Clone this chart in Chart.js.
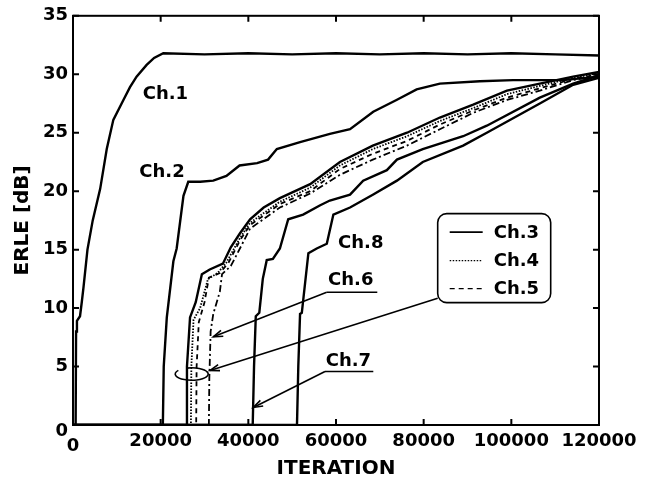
<!DOCTYPE html>
<html lang="en">
<head>
  <meta charset="UTF-8" />
  <title>ERLE vs iteration</title>
  <script src="https://cdn.jsdelivr.net/npm/chart.js"></script>
  <style>
    html, body { margin: 0; padding: 0; background: #fff; }
  </style>
</head>
<body>
  <canvas id="erleChart" width="656" height="483"></canvas>

  <script>
    // ticks
    const xTicks = [0, 20000, 40000, 60000, 80000, 100000, 120000];
    const yTicks = [0, 5, 10, 15, 20, 25, 30, 35];

    // curves (iteration, ERLE dB)
    const ch1X = [0, 600, 700, 900, 1600, 2000, 2400, 3300, 4500, 6200, 7700, 9200, 11500, 13000, 14500, 16800, 18500, 20600, 30000, 40000, 50000, 60000, 70000, 80000, 90000, 100000, 110000, 120000];
    const ch1Y = [0, 0, 8.0, 8.9, 9.3, 10.5, 11.8, 15.0, 17.5, 20.2, 23.6, 26.1, 27.8, 28.9, 29.8, 30.8, 31.4, 31.8, 31.7, 31.8, 31.7, 31.8, 31.7, 31.8, 31.7, 31.8, 31.7, 31.6];

    const ch2X = [0, 20500, 20700, 21400, 22900, 23650, 25200, 26300, 29000, 32000, 35000, 38000, 42000, 44500, 46500, 51800, 58600, 63200, 68500, 73800, 78400, 83700, 92800, 100400, 111800, 120000];
    const ch2Y = [0, 0, 5, 9.2, 14.0, 15.1, 19.6, 20.8, 20.8, 20.9, 21.3, 22.2, 22.4, 22.7, 23.6, 24.2, 24.9, 25.3, 26.8, 27.8, 28.7, 29.2, 29.4, 29.5, 29.5, 29.8];

    const ch3X = [0, 25900, 26000, 26700, 28000, 29400, 31200, 34200, 36000, 38100, 40400, 43500, 47200, 54100, 60900, 68400, 76200, 83700, 91300, 99000, 106500, 114100, 120000];
    const ch3Y = [0, 0, 5, 9.2, 10.5, 12.9, 13.3, 13.8, 15.2, 16.4, 17.6, 18.6, 19.4, 20.6, 22.5, 23.9, 25.0, 26.3, 27.4, 28.6, 29.2, 29.8, 30.2];

    const ch4X = [0, 26900, 27000, 27500, 29000, 30800, 33000, 35000, 38100, 40400, 47200, 54100, 60900, 68400, 76200, 83700, 91300, 99000, 106500, 114100, 120000];
    const ch4Y = [0, 0, 5, 9.0, 10.0, 12.5, 13.0, 13.9, 16.0, 17.3, 19.1, 20.3, 22.2, 23.6, 24.7, 26.0, 27.1, 28.3, 29.0, 29.7, 30.1];

    const ch5X = [0, 28100, 28200, 28700, 30000, 31000, 33500, 35500, 38100, 40400, 47200, 54100, 60900, 68400, 76200, 83700, 91300, 99000, 106500, 114100, 120000];
    const ch5Y = [0, 0, 5, 8.8, 10.5, 12.6, 13.0, 13.9, 15.8, 17.1, 18.9, 20.0, 21.9, 23.2, 24.3, 25.7, 26.9, 28.0, 28.8, 29.6, 30.0];

    const ch6X = [0, 31000, 31100, 31400, 32000, 33500, 34000, 36000, 37400, 40400, 47200, 54100, 60900, 68400, 76200, 83700, 91300, 99000, 106500, 114100, 120000];
    const ch6Y = [0, 0, 4, 8.0, 9.5, 11.4, 12.9, 13.6, 14.6, 16.8, 18.6, 19.8, 21.4, 22.7, 23.9, 25.3, 26.7, 27.8, 28.6, 29.5, 29.9];

    const ch7X = [0, 41000, 41300, 41700, 42500, 43300, 44200, 45600, 47200, 49100, 52500, 56400, 58600, 63200, 66200, 71600, 73900, 79800, 89000, 94400, 106500, 114100, 120000];
    const ch7Y = [0, 0, 5, 9.3, 9.6, 12.5, 14.1, 14.2, 15.1, 17.6, 18.0, 18.8, 19.2, 19.7, 20.9, 21.8, 22.7, 23.6, 24.7, 25.6, 28.0, 29.2, 29.9];

    const ch8X = [0, 51100, 51400, 51800, 52200, 53700, 55600, 57900, 59400, 63200, 68400, 73900, 79800, 89000, 94400, 106500, 114100, 120000];
    const ch8Y = [0, 0, 5, 9.5, 9.6, 14.7, 15.1, 15.5, 18.0, 18.6, 19.7, 20.9, 22.5, 23.9, 25.0, 27.5, 29.1, 29.7];

    const toPoints = (xs, ys) => xs.map((x, i) => ({ x: x, y: ys[i] }));

    const tickFont = { family: 'DejaVu Sans', weight: 'bold', size: 18 };
    const titleFont = { family: 'DejaVu Sans', weight: 'bold', size: 20 };
    const labelFont = 'bold 18px "DejaVu Sans"';

    function serie(label, xs, ys, dash, width) {
      return {
        label: label,
        data: toPoints(xs, ys),
        borderColor: '#000',
        borderWidth: width || 2.4,
        borderDash: dash || [],
        pointRadius: 0,
        fill: false,
        tension: 0
      };
    }

    function arrow(ctx, a, b) {
      ctx.beginPath();
      ctx.moveTo(a.x, a.y);
      ctx.lineTo(b.x, b.y);
      ctx.stroke();
      const ang = Math.atan2(b.y - a.y, b.x - a.x);
      const h = 10, w = 0.32;
      ctx.beginPath();
      ctx.moveTo(b.x - h * Math.cos(ang - w), b.y - h * Math.sin(ang - w));
      ctx.lineTo(b.x, b.y);
      ctx.lineTo(b.x - h * Math.cos(ang + w), b.y - h * Math.sin(ang + w));
      ctx.stroke();
    }

    // frame with inward ticks, labels, arrows and the boxed legend
    const matlabLook = {
      id: 'matlabLook',
      afterDatasetsDraw(chart) {
        const ctx = chart.ctx;
        const area = chart.chartArea;
        const xs = chart.scales.x, ys = chart.scales.y;
        const at = (x, y) => ({ x: xs.getPixelForValue(x), y: ys.getPixelForValue(y) });

        ctx.save();
        ctx.strokeStyle = '#000';
        ctx.lineWidth = 2;
        ctx.strokeRect(area.left, area.top, area.right - area.left, area.bottom - area.top);

        const tl = 6;
        ctx.beginPath();
        xTicks.forEach(v => {
          const px = xs.getPixelForValue(v);
          ctx.moveTo(px, area.bottom); ctx.lineTo(px, area.bottom - tl);
          ctx.moveTo(px, area.top); ctx.lineTo(px, area.top + tl);
        });
        yTicks.forEach(v => {
          const py = ys.getPixelForValue(v);
          ctx.moveTo(area.left, py); ctx.lineTo(area.left + tl, py);
          ctx.moveTo(area.right, py); ctx.lineTo(area.right - tl, py);
        });
        ctx.stroke();

        // the two "0" labels sit a little lower at the corner
        ctx.fillStyle = '#000';
        ctx.font = labelFont;
        ctx.textBaseline = 'middle';
        ctx.textAlign = 'right';
        ctx.fillText('0', area.left - 5, ys.getPixelForValue(0) + 6);
        ctx.textAlign = 'center';
        ctx.fillText('0', xs.getPixelForValue(0), area.bottom + 21);

        // channel labels
        ctx.textAlign = 'left';
        ctx.textBaseline = 'alphabetic';
        const texts = [
          ['Ch.1', 15900, 27.9],
          ['Ch.2', 15130, 21.2],
          ['Ch.8', 60460, 15.1],
          ['Ch.6', 58180, 11.95],
          ['Ch.7', 57650, 5.08]
        ];
        texts.forEach(t => {
          const p = at(t[1], t[2]);
          ctx.fillText(t[0], p.x, p.y);
        });

        // underlines + arrows
        ctx.lineWidth = 1.6;
        let p1 = at(57880, 11.36), p2 = at(69420, 11.36);
        ctx.beginPath(); ctx.moveTo(p1.x, p1.y); ctx.lineTo(p2.x, p2.y); ctx.stroke();
        arrow(ctx, p1, at(32010, 7.54));

        p1 = at(57490, 4.58); p2 = at(68510, 4.58);
        ctx.beginPath(); ctx.moveTo(p1.x, p1.y); ctx.lineTo(p2.x, p2.y); ctx.stroke();
        arrow(ctx, p1, at(41130, 1.5));

        arrow(ctx, at(83200, 10.85), at(31260, 4.66));

        // ring around Ch.3-Ch.5
        const c = at(27080, 4.36);
        ctx.beginPath();
        ctx.ellipse(c.x, c.y, 16.5, 6.2, 0, -0.6 * Math.PI, 1.2 * Math.PI);
        ctx.stroke();

        // legend box
        const b = at(83200, 18.08);
        const bw = 113, bh = 89;
        ctx.fillStyle = '#fff';
        ctx.beginPath();
        ctx.roundRect(b.x, b.y, bw, bh, 9);
        ctx.fill();
        ctx.lineWidth = 1.6;
        ctx.stroke();

        const rows = ['Ch.3', 'Ch.4', 'Ch.5'];
        const rowY = [18.5, 47, 75];
        rows.forEach((name, i) => {
          const ds = chart.data.datasets.find(d => d.label === name);
          const y = b.y + rowY[i];
          ctx.save();
          ctx.lineWidth = ds.borderDash.length ? 1.4 : 1.8;
          ctx.setLineDash(ds.borderDash);
          ctx.beginPath();
          ctx.moveTo(b.x + 12, y);
          ctx.lineTo(b.x + 45, y);
          ctx.stroke();
          ctx.restore();
          ctx.fillStyle = '#000';
          ctx.font = labelFont;
          ctx.textBaseline = 'middle';
          ctx.fillText(name, b.x + 56, y + 1);
        });
        ctx.restore();
      }
    };

    const chart = new Chart(document.getElementById('erleChart'), {
      type: 'line',
      data: {
        datasets: [
          serie('Ch.1', ch1X, ch1Y),
          serie('Ch.2', ch2X, ch2Y),
          serie('Ch.3', ch3X, ch3Y),
          serie('Ch.4', ch4X, ch4Y, [1.5, 1.5], 1.8),
          serie('Ch.5', ch5X, ch5Y, [5, 4], 1.8),
          serie('Ch.6', ch6X, ch6Y, [7, 3, 2, 3], 1.8),
          serie('Ch.7', ch7X, ch7Y),
          serie('Ch.8', ch8X, ch8Y)
        ]
      },
      options: {
        responsive: false,
        animation: false,
        layout: { padding: { top: 12, right: 57, left: 0, bottom: 0 } },
        plugins: {
          legend: { display: false },
          tooltip: { enabled: false }
        },
        scales: {
          x: {
            type: 'linear',
            min: 0,
            max: 120000,
            afterBuildTicks: s => { s.ticks = xTicks.map(v => ({ value: v })); },
            afterFit: s => { s.height = 58; },
            grid: { display: false, drawTicks: false },
            border: { display: false },
            ticks: {
              padding: 6,
              maxRotation: 0,
              autoSkip: false,
              color: '#000',
              font: tickFont,
              callback: v => (v === 0 ? '' : String(v))
            },
            title: {
              display: true,
              text: 'ITERATION',
              color: '#000',
              font: titleFont,
              padding: { top: 0, bottom: 2 }
            }
          },
          y: {
            min: 0,
            max: 35,
            afterBuildTicks: s => { s.ticks = yTicks.map(v => ({ value: v })); },
            afterFit: s => { s.width = 73; },
            grid: { display: false, drawTicks: false },
            border: { display: false },
            ticks: {
              padding: 5,
              color: '#000',
              font: tickFont,
              callback: v => (v === 0 ? '' : String(v))
            },
            title: {
              display: true,
              text: 'ERLE [dB]',
              color: '#000',
              font: titleFont,
              padding: { top: 11, bottom: 0 }
            }
          }
        }
      },
      plugins: [matlabLook]
    });
  </script>
</body>
</html>
